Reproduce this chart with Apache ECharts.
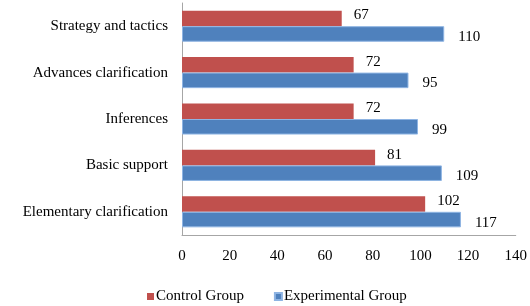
<!DOCTYPE html>
<html>
<head>
<meta charset="utf-8">
<script src="https://cdn.jsdelivr.net/npm/echarts@6/dist/echarts.min.js"></script>
<style>
  html, body { margin: 0; padding: 0; background: #fff; }
  #chart { width: 530px; height: 306px; }
</style>
</head>
<body>
<div id="chart"></div>
<script>
// categories bottom to top (category axis on y starts at bottom)
const categories = ['Elementary clarification', 'Basic support', 'Inferences', 'Advances clarification', 'Strategy and tactics']
const controlGroup = [102, 81, 72, 72, 67]
const experimentalGroup = [117, 109, 99, 95, 110]
const xTicks = [0, 140, 20] // min, max, step

const font = 'Liberation Serif'

const chart = echarts.init(document.getElementById('chart'))
chart.setOption({
  animation: false,
  textStyle: { fontFamily: font },
  grid: { left: 182, right: 12, top: 3, bottom: 71 },
  legend: {
    data: ['Control Group', 'Experimental Group'],
    bottom: -3,
    left: 142,
    itemWidth: 7,
    itemHeight: 7,
    itemGap: 30,
    icon: 'rect',
    textStyle: { fontFamily: font, fontSize: 15, color: '#000', padding: [0, 0, 0, -3] }
  },
  xAxis: {
    type: 'value',
    min: xTicks[0],
    max: xTicks[1],
    interval: xTicks[2],
    axisLine: { show: true, lineStyle: { color: '#a6a6a6' } },
    axisTick: { show: false },
    splitLine: { show: false },
    axisLabel: { color: '#000', fontSize: 15, margin: 14, fontFamily: font }
  },
  yAxis: {
    type: 'category',
    data: categories,
    axisLine: { show: true, lineStyle: { color: '#a6a6a6' } },
    axisTick: { show: false },
    axisLabel: { color: '#000', fontSize: 15, margin: 14, fontFamily: font }
  },
  series: [{
    name: 'Control Group',
    type: 'bar',
    data: controlGroup,
    barGap: '0%',
    barCategoryGap: '33%',
    itemStyle: { color: '#c0504d' },
    label: { show: true, position: 'right', distance: 12, offset: [0, -3], color: '#000', fontSize: 15, fontFamily: font }
  }, {
    name: 'Experimental Group',
    type: 'bar',
    data: experimentalGroup,
    itemStyle: { color: '#4f81bd', borderColor: '#8eb4e3', borderWidth: 1 },
    label: { show: true, position: 'right', distance: 14, offset: [0, 3], color: '#000', fontSize: 15, fontFamily: font }
  }]
})
</script>
</body>
</html>
